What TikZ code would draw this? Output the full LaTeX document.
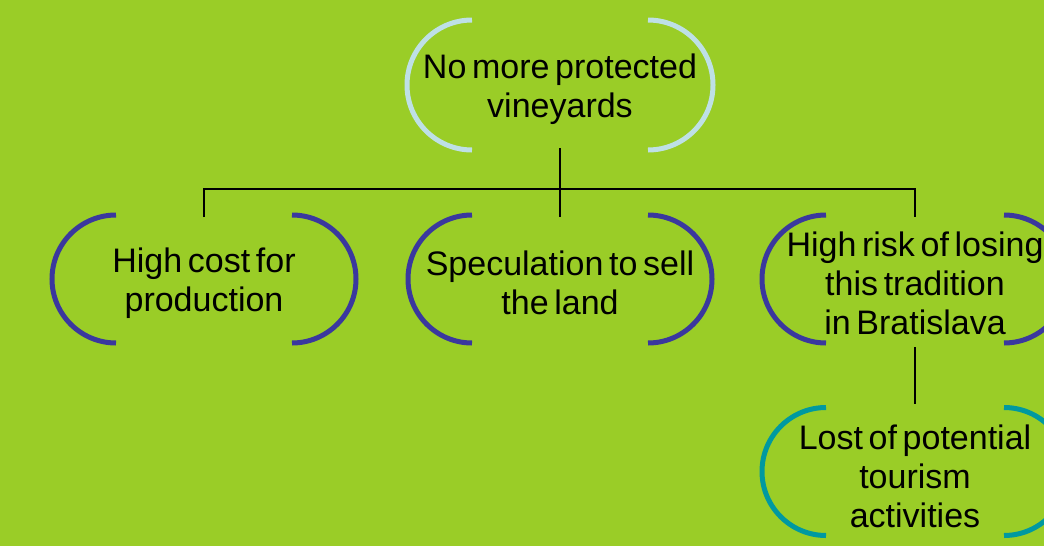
\documentclass[tikz,border=0pt]{standalone}
\usepackage{fontspec}
\setmainfont[WordSpace=0.6]{Liberation Sans}
\definecolor{bg}{RGB}{154,205,39}
\definecolor{lightarc}{RGB}{190,224,230}
\definecolor{darkarc}{RGB}{58,56,158}
\definecolor{tealarc}{RGB}{0,153,160}
\tikzset{
  box/.style={draw=none, outer sep=0pt, inner sep=0pt, align=center,
    font=\fontsize{34}{39}\selectfont, text=black},
  conn/.style={draw=black, line width=2.5pt},
}
\newcommand{\brackets}[3]{% name, color, radius
  \draw[#2, line width=5pt] ([xshift=#3pt,yshift=4pt]#1.north west) arc[start angle=90, end angle=270, radius=#3pt];
  \draw[#2, line width=5pt] ([xshift=-#3pt,yshift=4pt]#1.north east) arc[start angle=90, end angle=-90, radius=#3pt];
}
\begin{document}
\begin{tikzpicture}[x=1pt,y=-1pt]
\fill[bg] (0,0) rectangle (1044,546);
\useasboundingbox (0,0) rectangle (1044,546);
\begin{scope}
\clip (0,0) rectangle (1044,546);
\node[box, minimum width=306pt, minimum height=130pt] (top) at (560,89) {No more protected\\vineyards};
\node[box, minimum width=304pt, minimum height=128pt] (m1) at (204,283) {High cost for\\production};
\node[box, minimum width=304pt, minimum height=128pt] (m2) at (560,283) {Speculation to sell\\the land};
\node[box, minimum width=306pt, minimum height=128pt] (m3) at (915,283) {High risk of losing\\this tradition\\in Bratislava};
\node[box, minimum width=306pt, minimum height=129pt] (m4) at (915,476) {Lost of potential\\tourism\\activities};
\brackets{top}{lightarc}{65}
\brackets{m1}{darkarc}{64}
\brackets{m2}{darkarc}{64}
\brackets{m3}{darkarc}{64}
\brackets{m4}{tealarc}{64}
\coordinate (bus) at (560,189);
\draw[conn] ([yshift=6pt]top.south) -- ([yshift=2pt]m2.north);
\draw[conn] ([yshift=2pt]m1.north) |- (bus) -| ([yshift=2pt]m3.north);
\draw[conn] (m3.south) -- ([yshift=8pt]m4.north);
\end{scope}
\end{tikzpicture}
\end{document}
